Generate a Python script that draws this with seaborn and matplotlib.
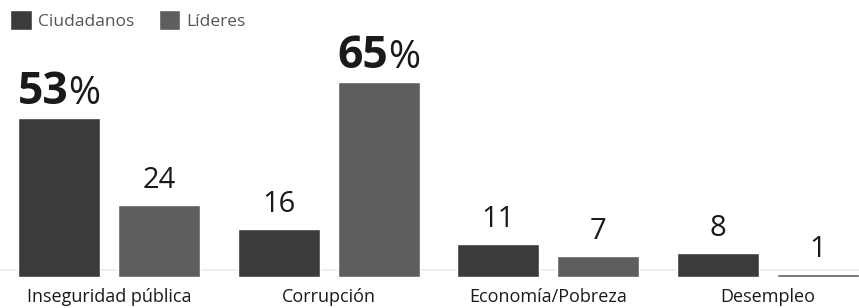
import matplotlib
matplotlib.use("Agg")
import matplotlib.pyplot as plt
import seaborn as sns
import pandas as pd
from matplotlib.offsetbox import TextArea, HPacker, AnnotationBbox

categories = ["Inseguridad pública", "Corrupción", "Economía/Pobreza", "Desempleo"]
ciudadanos = [53, 16, 11, 8]
lideres = [24, 65, 7, 1]
series_names = ["Ciudadanos", "Líderes"]
colors = ["#3b3b3b", "#5e5e5e"]

df = pd.DataFrame({
    "tema": categories * 2,
    "pct": ciudadanos + lideres,
    "grupo": [series_names[0]] * len(categories) + [series_names[1]] * len(categories),
})

sns.set_theme(style="white")
plt.rcParams["font.family"] = ["Open Sans", "DejaVu Sans"]

fig = plt.figure(figsize=(8.59, 3.08), dpi=100)
ax = fig.add_axes([0, 31 / 308, 1, 277 / 308])

sns.barplot(data=df, x="tema", y="pct", hue="grupo", palette=colors,
            width=0.909, gap=0.18, saturation=1, ax=ax, zorder=2)
ax.axhline(2.3, color="#ececec", lw=1.2, zorder=1)

ax.set_xlim(-0.496, 3.414)
ax.set_ylim(0, 277 / 3)
ax.set_xlabel("")
ax.set_ylabel("")
ax.set_yticks([])
sns.despine(ax=ax, left=True, bottom=True)
ax.tick_params(axis="x", length=0, pad=8, labelsize=13, labelcolor="#1a1a1a")

series_vals = [ciudadanos, lideres]
for cont, vals in zip(ax.containers, series_vals):
    top = max(vals)
    for p, v in zip(cont.patches, vals):
        x = p.get_x() + p.get_width() / 2
        y = p.get_height()
        if v == top:
            t1 = TextArea(f"{v}", textprops=dict(fontsize=32, fontweight="bold", color="#1a1a1a"))
            t2 = TextArea("%", textprops=dict(fontsize=28, color="#1a1a1a"))
            box = HPacker(children=[t1, t2], pad=0, sep=0, align="baseline")
            ab = AnnotationBbox(box, (x, y), xybox=(0, 2), xycoords="data",
                                boxcoords="offset points", box_alignment=(0.5, 0),
                                frameon=False, pad=0)
            ax.add_artist(ab)
        else:
            ax.annotate(f"{v}", (x, y), xytext=(0, 7), textcoords="offset points",
                        ha="center", va="bottom", fontsize=21, color="#1a1a1a")

leg = ax.legend(loc="upper left", bbox_to_anchor=(0.004, 0.99), frameon=False, ncol=2,
                fontsize=12.5, handlelength=1.25, handleheight=1.45, handletextpad=0.35,
                columnspacing=1.4, borderaxespad=0)
for t in leg.get_texts():
    t.set_color("#555555")

fig.savefig("out.png", dpi=100)
